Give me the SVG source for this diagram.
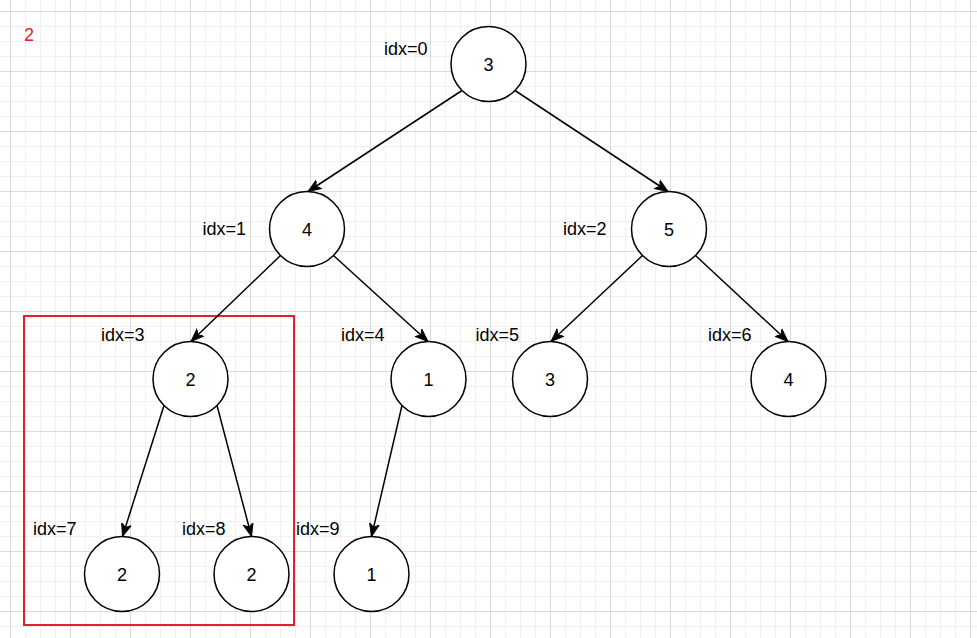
<svg xmlns="http://www.w3.org/2000/svg" width="977" height="638" viewBox="0 0 977 638">
<defs>
<pattern id="minor" x="10" y="11" width="15" height="15" patternUnits="userSpaceOnUse">
<path d="M0.5 0V15M0 0.5H15" stroke="#f0f0f0" stroke-width="1" fill="none"/>
</pattern>
<pattern id="major" x="10" y="11" width="60" height="60" patternUnits="userSpaceOnUse">
<path d="M0.5 0V60M0 0.5H60" stroke="#dadada" stroke-width="1" fill="none"/>
</pattern>
<marker id="arr" markerUnits="userSpaceOnUse" markerWidth="16" markerHeight="14" refX="13" refY="6" orient="auto" viewBox="0 0 16 12">
<path d="M0 1 L13 6 L0 11 L3.5 6 Z" fill="#000" stroke="#000" stroke-width="1"/>
</marker>
<style>
.n circle{fill:#fff;stroke:#000;stroke-width:1.5}
.n text,.lbl{font-family:"Liberation Sans",Arial,Helvetica,sans-serif;font-size:18px;fill:#000}
.n text{text-anchor:middle}
.e{stroke:#000;stroke-width:1.5;fill:none;marker-end:url(#arr)}
</style>
</defs>
<rect width="977" height="638" fill="#fff"/>
<rect width="977" height="638" fill="url(#minor)"/>
<rect width="977" height="638" fill="url(#major)"/>

<text x="24" y="41" style="font-family:'Liberation Sans',Arial,sans-serif;font-size:18px;fill:#e6202a">2</text>

<rect id="highlight" x="24" y="316" width="270" height="309" fill="none" stroke="#e6202a" stroke-width="2"/>

<g id="connectors">
<line class="e" x1="462" y1="90.5" x2="308" y2="191.5"/>
<line class="e" x1="515" y1="90.5" x2="668" y2="191.5"/>
<line class="e" x1="280.5" y1="255.5" x2="191" y2="341.5"/>
<line class="e" x1="333.5" y1="255.5" x2="428" y2="341.5"/>
<line class="e" x1="642.5" y1="255.5" x2="551" y2="341.5"/>
<line class="e" x1="695.5" y1="255.5" x2="788" y2="341.5"/>
<line class="e" x1="164" y1="405.5" x2="122.5" y2="536.5"/>
<line class="e" x1="217" y1="405.5" x2="251.5" y2="536.5"/>
<line class="e" x1="402" y1="405.5" x2="371.5" y2="536.5"/>
</g>

<g id="node0" class="n"><circle cx="488.5" cy="64" r="37.5"/><text x="488.5" y="70.5">3</text></g>
<g id="node1" class="n"><circle cx="307" cy="229" r="37.5"/><text x="307" y="235.5">4</text></g>
<g id="node2" class="n"><circle cx="669" cy="229" r="37.5"/><text x="669" y="235.5">5</text></g>
<g id="node3" class="n"><circle cx="190.5" cy="379" r="37.5"/><text x="190.5" y="385.5">2</text></g>
<g id="node4" class="n"><circle cx="428.5" cy="379" r="37.5"/><text x="428.5" y="385.5">1</text></g>
<g id="node5" class="n"><circle cx="550" cy="379" r="37.5"/><text x="550" y="385.5">3</text></g>
<g id="node6" class="n"><circle cx="788.5" cy="379" r="37.5"/><text x="788.5" y="385.5">4</text></g>
<g id="node7" class="n"><circle cx="122" cy="574" r="37.5"/><text x="122" y="580.5">2</text></g>
<g id="node8" class="n"><circle cx="251.5" cy="574" r="37.5"/><text x="251.5" y="580.5">2</text></g>
<g id="node9" class="n"><circle cx="371.5" cy="574" r="37.5"/><text x="371.5" y="580.5">1</text></g>

<g id="labels">
<text class="lbl" x="384" y="54.5">idx=0</text>
<text class="lbl" x="202.5" y="235">idx=1</text>
<text class="lbl" x="563" y="235">idx=2</text>
<text class="lbl" x="101" y="340.5">idx=3</text>
<text class="lbl" x="341" y="340.5">idx=4</text>
<text class="lbl" x="475.5" y="340.5">idx=5</text>
<text class="lbl" x="708" y="340.5">idx=6</text>
<text class="lbl" x="33" y="534.5">idx=7</text>
<text class="lbl" x="182" y="534.5">idx=8</text>
<text class="lbl" x="296" y="534.5">idx=9</text>
</g>
</svg>
